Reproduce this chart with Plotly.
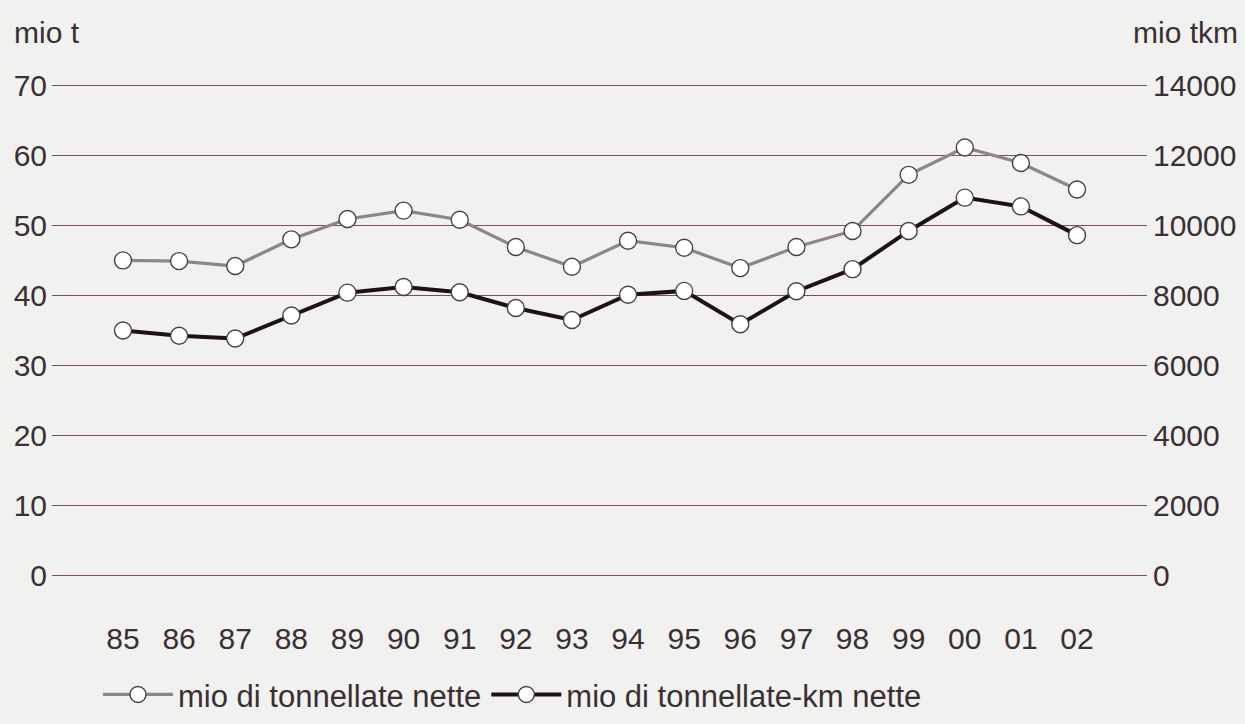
import plotly.graph_objects as go

years = ["85", "86", "87", "88", "89", "90", "91", "92", "93", "94", "95", "96", "97", "98", "99", "00", "01", "02"]
tonnes = [45.0, 44.9, 44.2, 48.0, 50.9, 52.1, 50.8, 46.9, 44.1, 47.8, 46.8, 43.9, 46.9, 49.2, 57.2, 61.1, 58.9, 55.1]
tkm = [7000, 6850, 6770, 7430, 8080, 8240, 8090, 7640, 7300, 8020, 8130, 7180, 8120, 8750, 9840, 10790, 10540, 9720]
left_ticks = [0, 10, 20, 30, 40, 50, 60, 70]
right_ticks = [0, 2000, 4000, 6000, 8000, 10000, 12000, 14000]
right_labels = [str(v) for v in right_ticks]

name_t = "mio di tonnellate nette"
name_tkm = "mio di tonnellate-km nette"

idx = list(range(len(years)))
txt = "#3a2f33"
grid = "#7e4e5c"
bg = "#f1f1ef"
font = "Liberation Sans, Arial, sans-serif"

fig = go.Figure()
fig.add_trace(go.Scatter(
    x=idx, y=tonnes, name=name_t, mode="lines+markers",
    line=dict(color="#8d8587", width=3.2),
    marker=dict(symbol="circle", size=17, color="white", line=dict(color="#4a4044", width=1.4)),
    yaxis="y",
))
fig.add_trace(go.Scatter(
    x=idx, y=tkm, name=name_tkm, mode="lines+markers",
    line=dict(color="#1e1216", width=4),
    marker=dict(symbol="circle", size=17, color="white", line=dict(color="#4a4044", width=1.4)),
    yaxis="y2",
))

fig.update_layout(
    width=1245, height=724,
    margin=dict(l=52, r=98, t=83, b=146, autoexpand=False),
    paper_bgcolor=bg, plot_bgcolor=bg,
    font=dict(family=font, size=30, color=txt),
    showlegend=True,
    legend=dict(orientation="h", x=0.042, y=-0.236, xanchor="left", yanchor="middle",
                font=dict(size=31, color=txt), bgcolor="rgba(0,0,0,0)",
                itemwidth=70, tracegroupgap=0),
    xaxis=dict(range=[-1.265, 18.247], tickmode="array", tickvals=idx, ticktext=years,
               showgrid=False, zeroline=False, showline=False, ticks="", automargin=False,
               ticklabelstandoff=40, tickfont=dict(size=30, color=txt)),
    yaxis=dict(range=[-0.3, 70.3], tickmode="array", tickvals=left_ticks,
               showgrid=True, gridcolor=grid, gridwidth=1.2,
               zeroline=True, zerolinecolor=grid, zerolinewidth=1.2,
               showline=False, ticks="", ticklabelstandoff=4, automargin=False,
               tickfont=dict(size=30, color=txt)),
    yaxis2=dict(range=[-60, 14060], tickmode="array", tickvals=right_ticks, ticktext=right_labels,
                overlaying="y", side="right", showgrid=False, zeroline=False,
                showline=False, ticks="", ticklabelstandoff=5, automargin=False,
                tickfont=dict(size=30, color=txt)),
    annotations=[
        dict(text="mio t", xref="paper", yref="paper", x=-0.0365, y=1.103,
             xanchor="left", yanchor="middle", showarrow=False, font=dict(size=30, color=txt)),
        dict(text="mio tkm", xref="paper", yref="paper", x=1.085, y=1.103,
             xanchor="right", yanchor="middle", showarrow=False, font=dict(size=30, color=txt)),
    ],
)

fig.write_html("out.html", config={"displayModeBar": False},
               post_script="document.body.style.margin='0';")
